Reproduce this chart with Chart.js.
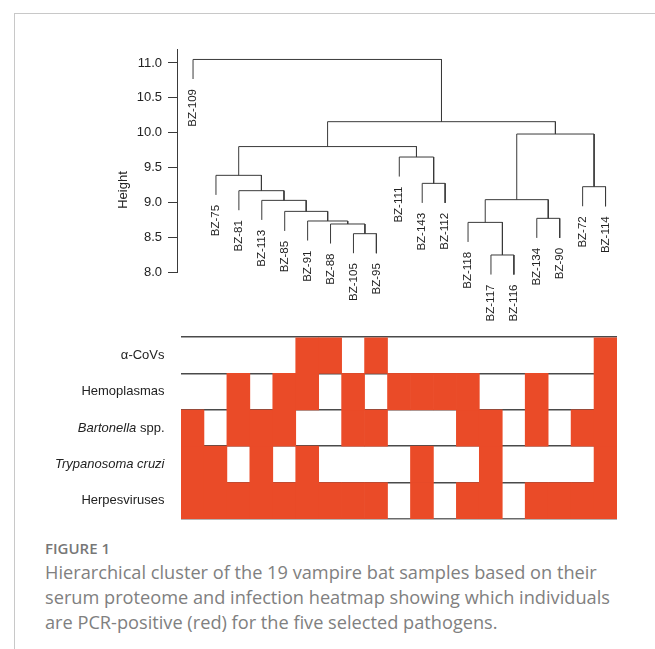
<!DOCTYPE html>
<html>
<head>
<meta charset="utf-8">
<script src="https://cdn.jsdelivr.net/npm/chart.js@4.4.1/dist/chart.umd.min.js"></script>
<style>
  html, body { margin: 0; padding: 0; background: #fff; }
  body { width: 655px; height: 649px; position: relative; overflow: hidden; }
  #frame { position: absolute; left: 14px; top: 13px; width: 660px; height: 660px;
           border-left: 1px solid #c8c8c8; border-top: 1px solid #c8c8c8; }
  #c1 { position: absolute; left: 0; top: 0; }
  #c2 { position: absolute; left: 0; top: 330px; }
  #figlabel { position: absolute; left: 45px; top: 538px; font-family: "Open Sans", sans-serif;
              font-weight: 600; font-size: 15px; line-height: 20px; color: #777; }
  #caption { position: absolute; left: 45px; top: 560px; width: 610px; white-space: nowrap;
             font-family: "Open Sans", sans-serif;
             font-weight: 400; font-size: 18.2px; line-height: 25px; color: #808080; }
</style>
</head>
<body>
<div id="frame"></div>
<canvas id="c1" width="655" height="330"></canvas>
<canvas id="c2" width="655" height="200"></canvas>
<div id="figlabel">FIGURE 1</div>
<div id="caption">Hierarchical cluster of the 19 vampire bat samples based on their<br>serum proteome and infection heatmap showing which individuals<br>are PCR-positive (red) for the five selected pathogens.</div>
<script>
// ---- data ----
const leafLabels = ["BZ-109","BZ-75","BZ-81","BZ-113","BZ-85","BZ-91","BZ-88","BZ-105","BZ-95",
  "BZ-111","BZ-143","BZ-112","BZ-118","BZ-117","BZ-116","BZ-134","BZ-90","BZ-72","BZ-114"];
// R-style merge matrix: negative = leaf (-(index+1)), positive = earlier merge number (1-based)
const mergeLeft   = [-14, -8, -7, -13, -6, -16, -5, -4, 4, -3, -18, -11, -2, -10, 13, 9, 15, -1];
const mergeRight  = [-15, -9,  2,   1,  3, -17,  5,  7, 6,  8, -19, -12, 10,  12, 14, 11, 16, 17];
const mergeHeight = [8.244, 8.55, 8.689, 8.712, 8.732, 8.77, 8.87, 9.028, 9.038, 9.167,
  9.224, 9.272, 9.387, 9.65, 9.80, 9.98, 10.157, 11.05];
const heightTicks = [8.0, 8.5, 9.0, 9.5, 10.0, 10.5, 11.0];

const pathogens = ["α-CoVs", "Hemoplasmas", "Bartonella spp.", "Trypanosoma cruzi", "Herpesviruses"];
const italicPart = ["", "", "Bartonella", "Trypanosoma cruzi", ""];
const aCoVs      = [0,0,0,0,0,1,1,0,1,0,0,0,0,0,0,0,0,0,1];
const hemoplasma = [0,0,1,0,1,1,0,1,0,1,1,1,1,0,0,1,0,0,1];
const bartonella = [1,0,1,1,1,0,0,1,1,0,0,0,1,1,0,1,0,1,1];
const trypanosoma= [1,1,0,1,0,1,0,0,0,0,1,0,0,1,0,0,0,0,1];
const herpes     = [1,1,1,1,1,1,1,1,1,0,1,0,1,1,0,1,1,1,1];
const infection = [aCoVs, hemoplasma, bartonella, trypanosoma, herpes];

// ---- dendrogram layout ----
const hang = 0.1 * (Math.max(...mergeHeight) - Math.min(...mergeHeight));
const nodeX = [];
function refX(r) { return r < 0 ? (-r - 1) : nodeX[r - 1]; }
mergeLeft.forEach((l, i) => {
  nodeX.push((refX(l) + refX(mergeRight[i])) / 2);
});
const leafBottom = new Array(leafLabels.length);
const segDatasets = mergeLeft.map((l, i) => {
  const r = mergeRight[i], h = mergeHeight[i];
  const bot = ref => ref < 0 ? h - hang : mergeHeight[ref - 1];
  if (l < 0) leafBottom[-l - 1] = h - hang;
  if (r < 0) leafBottom[-r - 1] = h - hang;
  return {
    data: [{x: refX(l), y: bot(l)}, {x: refX(l), y: h}, {x: refX(r), y: h}, {x: refX(r), y: bot(r)}],
    showLine: true, borderColor: '#3a3a3a', borderWidth: 1, pointRadius: 0, tension: 0, clip: false
  };
});

const FONT = "'Liberation Sans', Arial, sans-serif";
const leafLabelPlugin = {
  id: 'leafLabels',
  afterDatasetsDraw(chart) {
    const {ctx, scales: {x, y}} = chart;
    ctx.save();
    ctx.fillStyle = '#222';
    ctx.font = '11.5px ' + FONT;
    leafLabels.forEach((lab, i) => {
      const px = x.getPixelForValue(i), py = y.getPixelForValue(leafBottom[i]) + 10;
      ctx.save();
      ctx.translate(px, py);
      ctx.rotate(-Math.PI / 2);
      ctx.textAlign = 'right';
      ctx.textBaseline = 'middle';
      ctx.fillText(lab, 0, 0);
      ctx.restore();
    });
    // axis title
    ctx.save();
    ctx.font = '13px ' + FONT;
    ctx.translate(123, 190);
    ctx.rotate(-Math.PI / 2);
    ctx.textAlign = 'center';
    ctx.textBaseline = 'middle';
    ctx.fillText('Height', 0, 0);
    ctx.restore();
    ctx.restore();
  }
};

new Chart(document.getElementById('c1'), {
  type: 'scatter',
  data: { datasets: segDatasets },
  options: {
    responsive: false, animation: false, devicePixelRatio: 1,
    layout: { padding: { left: 0, right: 38, top: 49, bottom: 58 } },
    plugins: { legend: { display: false }, tooltip: { enabled: false } },
    scales: {
      x: { type: 'linear', min: -0.7, max: 18.5, display: false },
      y: {
        type: 'linear', min: 8.0, max: 11.2,
        afterFit: s => { s.width = 177; },
        afterBuildTicks: s => { s.ticks = heightTicks.map(v => ({value: v})); },
        ticks: { color: '#222', font: { size: 13, family: FONT }, padding: 6,
                 callback: v => Number(v).toFixed(1) },
        grid: { drawOnChartArea: false, drawTicks: true, tickLength: 9, color: '#3a3a3a' },
        border: { display: true, color: '#3a3a3a', width: 1 }
      }
    }
  },
  plugins: [leafLabelPlugin]
});

// ---- heatmap ----
const rowLabelPlugin = {
  id: 'rowLabels',
  afterDraw(chart) {
    const {ctx, chartArea, scales: {y}} = chart;
    ctx.save();
    ctx.fillStyle = '#222';
    ctx.textBaseline = 'middle';
    ctx.textAlign = 'left';
    const xr = chartArea.left - 16.5;
    pathogens.forEach((lab, r) => {
      const py = y.getPixelForValue(r + 0.5);
      const it = italicPart[r];
      const rest = it ? lab.slice(it.length) : lab;
      ctx.font = '13px ' + FONT;
      const wRest = ctx.measureText(rest).width;
      ctx.font = 'italic 13px ' + FONT;
      const wIt = it ? ctx.measureText(it).width : 0;
      const x0 = xr - wRest - wIt;
      if (it) { ctx.font = 'italic 13px ' + FONT; ctx.fillText(it, x0, py); }
      ctx.font = '13px ' + FONT;
      ctx.fillText(rest, x0 + wIt, py);
    });
    ctx.restore();
  }
};

new Chart(document.getElementById('c2'), {
  type: 'bar',
  data: {
    labels: leafLabels,
    datasets: infection.map((row, r) => ({
      label: pathogens[r],
      data: row.map(v => v ? [r, r + 1] : null),
      backgroundColor: '#EA4B28', borderWidth: 0,
      grouped: false, barPercentage: 1, categoryPercentage: 1
    }))
  },
  options: {
    responsive: false, animation: false, devicePixelRatio: 1,
    layout: { padding: { left: 181, right: 38, top: 7, bottom: 11 } },
    plugins: { legend: { display: false }, tooltip: { enabled: false } },
    scales: {
      x: { display: false },
      y: {
        type: 'linear', min: 0, max: 5, reverse: true, z: 1,
        afterFit: s => { s.width = 0; },
        ticks: { display: false, stepSize: 1 },
        grid: { drawTicks: false, lineWidth: 1.6,
                color: c => c.index === 0 ? '#6a6a6a' : '#4a4a4a' },
        border: { display: false }
      }
    }
  },
  plugins: [rowLabelPlugin]
});
</script>
</body>
</html>
